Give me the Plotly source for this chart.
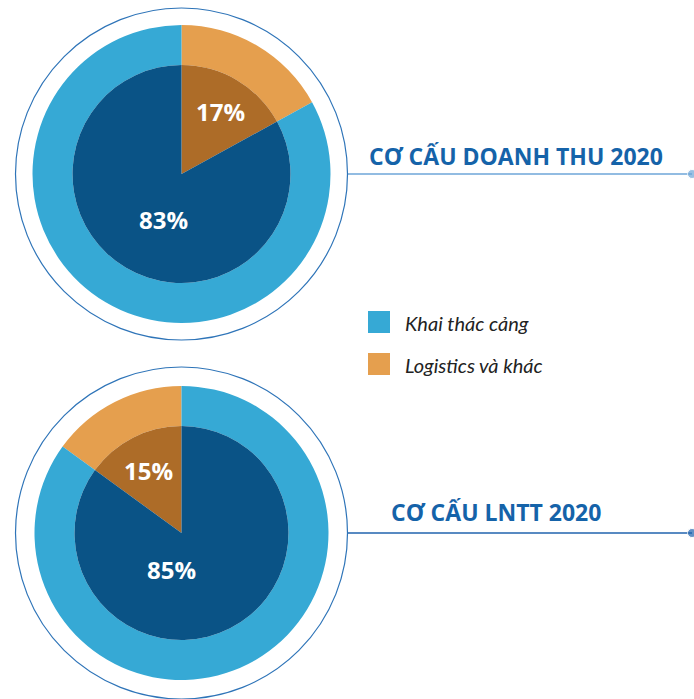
import plotly.graph_objects as go

# data
categories = ['Logistics và khác', 'Khai thác cảng']
legend_order = ['Khai thác cảng', 'Logistics và khác']
doanh_thu = [17, 83]
lntt = [15, 85]
titles = ['CƠ CẤU DOANH THU 2020', 'CƠ CẤU LNTT 2020']

W, H = 694, 699

outer_colors = {'Khai thác cảng': '#36A9D5', 'Logistics và khác': '#E59F4E'}
inner_colors = {'Khai thác cảng': '#0A5386', 'Logistics và khác': '#AD6C28'}

# geometry of each chart (px): center, outer radius, inner radius
# top: orange slice goes clockwise from 12 o'clock; bottom: it ends at 12 o'clock
charts = [
    dict(values=doanh_thu, cx=181.5, cy=174, ro=149, ri=109, rotation=0,
         title=titles[0], tx=367, ty=156, line_color='#6EA6D8',
         label_pos=[(0.36, -0.57), (-0.165, 0.42)]),
    dict(values=lntt, cx=181.5, cy=533, ro=147, ri=107, rotation=-3.6 * lntt[0],
         title=titles[1], tx=389, ty=512, line_color='#2163AE',
         label_pos=[(-0.31, -0.58), (-0.09, 0.34)]),
]


def dom(cx, cy, r):
    return dict(x=[(cx - r) / W, (cx + r) / W], y=[1 - (cy + r) / H, 1 - (cy - r) / H])


fig = go.Figure()
annotations = []
shapes = []

for c in charts:
    # outer ring
    fig.add_trace(go.Pie(
        labels=categories, values=c['values'], sort=False, direction='clockwise',
        rotation=c['rotation'], hole=c['ri'] / c['ro'], domain=dom(c['cx'], c['cy'], c['ro']),
        marker=dict(colors=[outer_colors[k] for k in categories], line=dict(width=0)),
        textinfo='none', hoverinfo='label+percent', showlegend=False,
    ))
    # inner pie
    fig.add_trace(go.Pie(
        labels=categories, values=c['values'], sort=False, direction='clockwise',
        rotation=c['rotation'], domain=dom(c['cx'], c['cy'], c['ri']),
        marker=dict(colors=[inner_colors[k] for k in categories], line=dict(width=0)),
        textinfo='none', hoverinfo='label+percent', showlegend=False,
    ))
    # percentage labels
    for v, (dx, dy) in zip(c['values'], c['label_pos']):
        annotations.append(dict(
            x=c['cx'] + dx * c['ri'], y=c['cy'] + dy * c['ri'], xref='x', yref='y',
            text=f'{v}%', showarrow=False,
            font=dict(family='Open Sans', size=24, color='white', weight='bold'),
        ))
    # outline circle
    r_out = 166
    shapes.append(dict(type='circle', xref='x', yref='y',
                       x0=c['cx'] - r_out, x1=c['cx'] + r_out,
                       y0=c['cy'] - r_out, y1=c['cy'] + r_out,
                       line=dict(color='#2E74B8', width=1.2)))
    # connector line with end dot
    fig.add_trace(go.Scatter(
        x=[c['cx'] + r_out, 692], y=[c['cy'], c['cy']], mode='lines+markers',
        line=dict(color=c['line_color'], width=1.5),
        marker=dict(size=[0, 9], color=c['line_color']),
        hoverinfo='skip', showlegend=False, cliponaxis=False,
    ))
    # title
    annotations.append(dict(
        x=c['tx'], y=c['ty'], xref='x', yref='y', xanchor='left', yanchor='middle',
        text=c['title'], showarrow=False,
        font=dict(family='Open Sans', size=23, color='#1563A9', weight='bold'),
    ))

# custom legend
for i, name in enumerate(legend_order):
    y0 = 311 + i * 42
    shapes.append(dict(type='rect', xref='x', yref='y', x0=368, x1=390, y0=y0, y1=y0 + 22,
                       fillcolor=outer_colors[name], line=dict(width=0)))
    annotations.append(dict(
        x=403, y=y0 + 12, xref='x', yref='y', xanchor='left', yanchor='middle',
        text=f'<i>{name}</i>', showarrow=False,
        font=dict(family='Lato', size=20, color='#222222'),
    ))

fig.update_layout(
    width=W, height=H, margin=dict(l=0, r=0, t=0, b=0),
    paper_bgcolor='white', plot_bgcolor='white',
    xaxis=dict(range=[0, W], visible=False, fixedrange=True),
    yaxis=dict(range=[H, 0], visible=False, fixedrange=True),
    shapes=shapes, annotations=annotations,
)

fig.write_html('out.html', config={'displayModeBar': False},
               post_script="document.body.style.margin='0';")
